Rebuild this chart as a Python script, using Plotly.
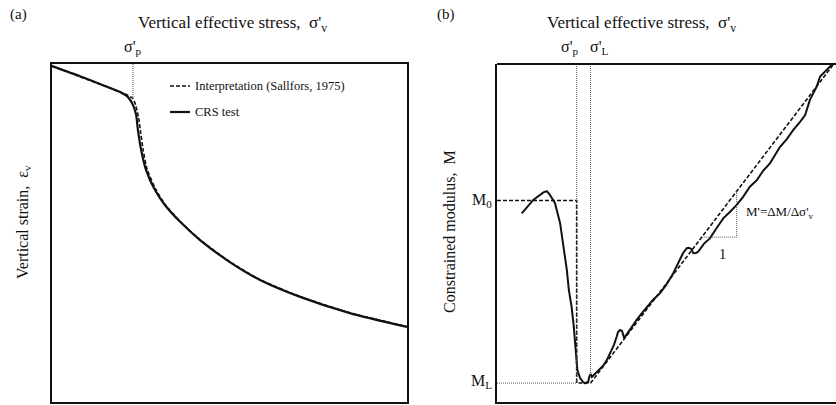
import plotly.graph_objects as go

W, H = 836, 405
FONT = "Liberation Serif"
INK = "#111111"

# ---------------- Panel (a): vertical strain vs vertical effective stress ----------------
a_stress = [0, 7.9, 13.5, 19.2, 21.4, 22.8, 23.7, 24.2, 25.1, 26.5, 29.0, 31.8, 36.1,
            41.7, 50.1, 58.6, 69.9, 83.9, 100]
a_strain = [0.6, 3.6, 5.9, 8.3, 9.8, 12.1, 15.1, 19.5, 25.4, 31.4, 37.3, 41.7, 46.7,
            52.1, 58.6, 63.9, 68.9, 73.7, 77.8]

a_interp_stress = [0, 19.2, 21.4, 22.8, 23.6, 24.4, 25.0, 25.7, 26.8, 29.2, 31.9, 36.1,
                   41.7, 50.1, 58.6, 69.9, 83.9, 100]
a_interp_strain = [0.6, 8.3, 9.3, 10.2, 12.3, 16.0, 20.5, 25.6, 31.2, 37.0, 41.6, 46.6,
                   52.0, 58.5, 63.8, 68.8, 73.6, 77.7]

a_sigma_p = 22.8

# ---------------- Panel (b): constrained modulus vs vertical effective stress ----------------
b_stress = [7.3, 10.7, 13.7, 14.7, 15.6, 17.1, 18.6, 19.5, 20.6, 21.2, 22.0, 22.6, 23.0,
            23.7, 24.5, 25.4, 26.0, 26.9, 27.3, 27.7, 28.0, 28.6, 29.5, 30.4, 31.3, 32.4,
            33.0, 33.8, 34.5, 35.3, 35.7, 36.3, 36.9, 37.5, 38.1, 39.2, 41.2, 42.5, 44.2,
            46.0, 48.1, 49.9, 52.0, 53.1, 54.0, 54.9, 56.0, 56.6, 57.4, 57.9, 58.7, 59.4,
            61.0, 62.8, 64.6, 66.8, 68.7, 70.7, 72.6, 74.6, 76.7, 78.5, 80.5, 82.3, 83.5,
            85.5, 87.4, 89.4, 90.9, 92.3, 94.3, 95.3, 97.3, 98.7]
b_modulus = [55.8, 59.8, 62.0, 62.4, 61.3, 58.8, 53.0, 46.5, 39.1, 33.1, 28.2, 22.8, 18.3,
             9.5, 7.1, 5.9, 5.5, 6.0, 7.7, 8.3, 7.4, 8.0, 8.9, 9.5, 10.7, 12.4,
             13.6, 15.4, 16.9, 19.3, 20.7, 21.3, 21.0, 18.9, 19.8, 21.3, 24.3, 26.0, 28.2,
             30.2, 32.2, 34.6, 38.1, 40.5, 42.5, 44.1, 45.5, 45.6, 45.2, 44.0, 44.1, 44.5,
             46.8, 48.4, 51.2, 54.4, 56.2, 58.3, 60.7, 63.7, 65.7, 68.4, 70.6, 73.4, 75.5,
             77.8, 80.5, 82.9, 84.9, 89.4, 93.3, 96.3, 98.2, 99.7]

b_sigma_p = 23.5
b_sigma_L = 27.6
b_M0 = 59.6
b_ML = 5.6
b_top_stress = 99.1
b_top_M = 99.7
b_interp_stress = [0, b_sigma_p, b_sigma_p, b_sigma_L, b_top_stress]
b_interp_M = [b_M0, b_M0, b_ML, b_ML, b_top_M]

# slope triangle (stress range on the interpretation line)
tri_x0, tri_x1 = 60.4, 70.7


def line_M(s):
    return b_ML + (s - b_sigma_L) * (b_top_M - b_ML) / (b_top_stress - b_sigma_L)


def px(x):
    return x / W


def py(y):
    return 1 - y / H


fig = go.Figure()

# panel a curves
fig.add_trace(go.Scatter(x=a_stress, y=a_strain, mode="lines", line=dict(color=INK, width=2.2, shape="spline", smoothing=0.6),
                         name="CRS test", xaxis="x", yaxis="y", showlegend=False))
fig.add_trace(go.Scatter(x=a_interp_stress, y=a_interp_strain, mode="lines",
                         line=dict(color=INK, width=1.6, dash="4px,2px", shape="spline", smoothing=0.6),
                         name="Interpretation (Sallfors, 1975)", xaxis="x", yaxis="y", showlegend=False))
fig.add_trace(go.Scatter(x=[a_sigma_p, a_sigma_p], y=[0, 9.8], mode="lines",
                         line=dict(color="#555555", width=1, dash="1px,1px"), xaxis="x", yaxis="y", showlegend=False))

# panel b curves
fig.add_trace(go.Scatter(x=b_stress, y=b_modulus, mode="lines", line=dict(color=INK, width=2.0),
                         name="CRS test", xaxis="x2", yaxis="y2", showlegend=False))
fig.add_trace(go.Scatter(x=b_interp_stress, y=b_interp_M, mode="lines",
                         line=dict(color=INK, width=1.6, dash="4px,2px"),
                         name="Interpretation", xaxis="x2", yaxis="y2", showlegend=False))
dot = dict(color="#555555", width=1, dash="1px,1px")
fig.add_trace(go.Scatter(x=[b_sigma_p, b_sigma_p], y=[100, b_ML], mode="lines", line=dot,
                         xaxis="x2", yaxis="y2", showlegend=False))
fig.add_trace(go.Scatter(x=[b_sigma_L, b_sigma_L], y=[100, 8.0], mode="lines", line=dot,
                         xaxis="x2", yaxis="y2", showlegend=False))
fig.add_trace(go.Scatter(x=[0, b_sigma_p], y=[b_ML, b_ML], mode="lines", line=dot,
                         xaxis="x2", yaxis="y2", showlegend=False))
fig.add_trace(go.Scatter(x=[tri_x0, tri_x1, tri_x1], y=[line_M(tri_x0), line_M(tri_x0), line_M(tri_x1)],
                         mode="lines", line=dot, xaxis="x2", yaxis="y2", showlegend=False))

ydom = [py(402), py(64)]
ax_common = dict(showticklabels=False, showgrid=False, zeroline=False, ticks="",
                 showline=True, linecolor="#111111", linewidth=1.8, fixedrange=True)
fig.update_layout(
    width=W, height=H,
    margin=dict(l=0, r=0, t=0, b=0),
    paper_bgcolor="white", plot_bgcolor="white",
    font=dict(family=FONT, color=INK, size=15),
    showlegend=False,
    xaxis=dict(domain=[px(52), px(407)], range=[0, 100], mirror=True, **ax_common),
    yaxis=dict(domain=ydom, range=[100, 0], mirror=True, **ax_common),
    xaxis2=dict(domain=[px(497), 1.0], range=[0, 100], anchor="y2", **ax_common),
    yaxis2=dict(domain=ydom, range=[0, 100], anchor="x2", **ax_common),
)

# top border of panel b
fig.add_shape(type="line", xref="x2 domain", yref="y2 domain", x0=0, x1=1, y0=1, y1=1,
              line=dict(color="#111111", width=1.8))

# manual legend in panel a
fig.add_shape(type="line", xref="paper", yref="paper", x0=px(170), x1=px(190), y0=py(86), y1=py(86),
              line=dict(color=INK, width=1.6, dash="4px,2px"))
fig.add_shape(type="line", xref="paper", yref="paper", x0=px(170), x1=px(190), y0=py(112), y1=py(112),
              line=dict(color=INK, width=2.2))

ann = []


def txt(text, x, y, size=15, xanchor="center", yanchor="middle", xref="paper", textangle=0):
    ann.append(dict(text=text, x=x, y=y, xref=xref, yref="paper", showarrow=False,
                    xanchor=xanchor, yanchor=yanchor, textangle=textangle,
                    font=dict(family=FONT, size=size, color=INK)))


txt("(a)", px(8), py(15), size=15, xanchor="left")
txt("(b)", px(435), py(15), size=15, xanchor="left")
txt("Vertical effective stress,  σ'<sub>v</sub>", px(232), py(24), size=17)
txt("Vertical effective stress,  σ'<sub>v</sub>", px(641), py(24), size=17)
txt("σ'<sub>p</sub>", a_sigma_p, py(48), size=16, xref="x")
txt("σ'<sub>p</sub>", b_sigma_p - 2.0, py(48), size=16, xref="x2")
txt("σ'<sub>L</sub>", b_sigma_L + 2.5, py(48), size=16, xref="x2")
txt("Interpretation (Sallfors, 1975)", px(193), py(86), size=12.5, xanchor="left")
txt("CRS test", px(193), py(112), size=12.5, xanchor="left")
txt("Vertical strain,  ε<sub>v</sub>", px(23), py(222), size=16, textangle=-90)
txt("Constrained modulus,  M", px(449), py(232), size=16, textangle=-90)
txt("M<sub>0</sub>", px(494), py(200), size=16, xanchor="right")
txt("M<sub>L</sub>", px(494), py(381), size=16, xanchor="right")
txt("M'=ΔM/Δσ'<sub>v</sub>", px(744), py(212), size=13, xanchor="left")
txt("1", px(722), py(254), size=14.5)

fig.update_layout(annotations=ann)
fig.write_html("out.html")
